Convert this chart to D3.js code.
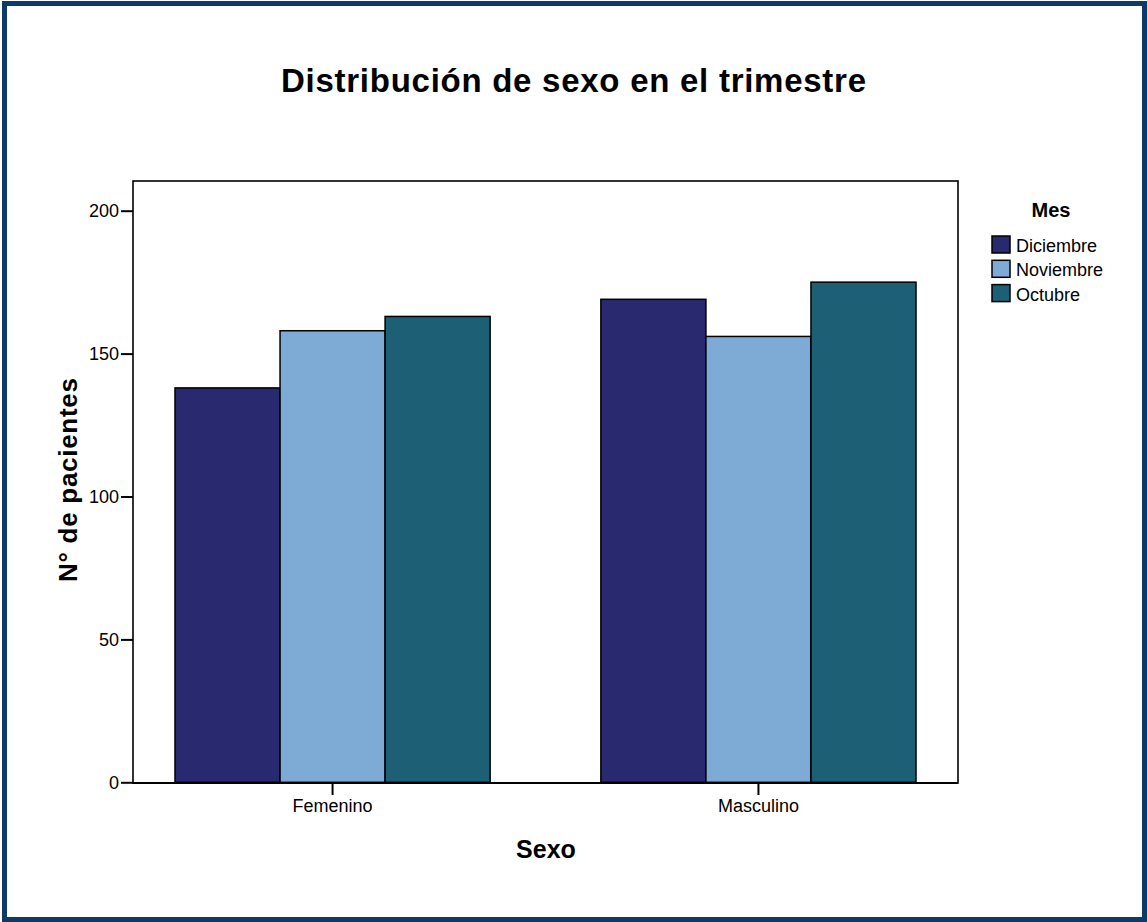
<!DOCTYPE html>
<html><head><meta charset="utf-8">
<script src="https://cdn.jsdelivr.net/npm/d3@7"></script>
<style>body{margin:0;background:#fff}svg{display:block}text{font-family:"Liberation Sans",Arial,sans-serif}</style>
</head><body><svg id="c" width="1147" height="922"></svg>
<script>
const categories = ["Femenino", "Masculino"];
const months = ["Diciembre", "Noviembre", "Octubre"];
const diciembre = [138, 169];
const noviembre = [158, 156];
const octubre = [163, 175];
const yTicks = [0, 50, 100, 150, 200];
const colors = ["#29296f", "#7eaad6", "#1d5f74"];

const series = [diciembre, noviembre, octubre];
const svg = d3.select("#c");

// outer frame
svg.append("rect").attr("x", 4.5).attr("y", 3.5).attr("width", 1140).attr("height", 916)
  .attr("fill", "#fff").attr("stroke", "#0d3b69").attr("stroke-width", 5);

const L = 133, R = 958, T = 181, B = 783;
const y = d3.scaleLinear().domain([0, 200]).range([782.3, 210.7]);
const x = d3.scaleBand().domain(categories).range([L, R]).paddingInner(0.26).paddingOuter(0.0986);
const xm = d3.scaleBand().domain(months).range([0, x.bandwidth()]).padding(0);

// title
svg.append("text").attr("x", 573.5).attr("y", 92).attr("text-anchor", "middle")
  .attr("font-size", 33).attr("font-weight", "bold").attr("textLength", 585).attr("lengthAdjust", "spacing")
  .text("Distribución de sexo en el trimestre");

// bars
const data = [];
categories.forEach((c, i) => months.forEach((m, j) => data.push({c, m, v: series[j][i], j})));
svg.append("g").selectAll("rect").data(data).join("rect")
  .attr("x", d => x(d.c) + xm(d.m))
  .attr("y", d => y(d.v))
  .attr("width", xm.bandwidth())
  .attr("height", d => y(0) - y(d.v))
  .attr("fill", d => colors[d.j])
  .attr("stroke", "#000").attr("stroke-width", 1.5);

// plot frame
svg.append("rect").attr("x", L).attr("y", T).attr("width", R - L).attr("height", B - T)
  .attr("fill", "none").attr("stroke", "#000").attr("stroke-width", 1.6);

// y axis
const ya = svg.append("g").attr("transform", `translate(${L},0)`)
  .call(d3.axisLeft(y).tickValues(yTicks).tickSize(12).tickPadding(2).tickFormat(d3.format("d")));
ya.select(".domain").remove();
ya.selectAll("line").attr("stroke", "#000").attr("stroke-width", 2);
ya.selectAll("text").attr("font-size", 18).attr("fill", "#000").attr("font-family", "Liberation Sans, Arial, sans-serif");

// x axis
const xa = svg.append("g").attr("transform", `translate(0,${B})`)
  .call(d3.axisBottom(x).tickSize(12).tickPadding(4));
xa.select(".domain").attr("stroke", "#000").attr("stroke-width", 2.2).attr("d", `M${L},0H${R}`);
xa.selectAll("line").attr("stroke", "#000").attr("stroke-width", 2);
xa.selectAll("text").attr("font-size", 18).attr("fill", "#000").attr("font-family", "Liberation Sans, Arial, sans-serif");

// axis titles
svg.append("text").attr("x", 546).attr("y", 857.5).attr("text-anchor", "middle")
  .attr("font-size", 25).attr("font-weight", "bold").text("Sexo");
svg.append("text").attr("transform", "translate(77,480) rotate(-90)").attr("text-anchor", "middle")
  .attr("font-size", 26).attr("font-weight", "bold").attr("textLength", 204).attr("lengthAdjust", "spacing")
  .text("N° de pacientes");

// legend
svg.append("text").attr("x", 1051).attr("y", 217).attr("text-anchor", "middle")
  .attr("font-size", 20).attr("font-weight", "bold").text("Mes");
const lg = svg.append("g").selectAll("g").data(months).join("g")
  .attr("transform", (d, i) => `translate(992,${236 + i * 24.3})`);
lg.append("rect").attr("width", 18).attr("height", 17).attr("fill", (d, i) => colors[i])
  .attr("stroke", "#000").attr("stroke-width", 1.5);
lg.append("text").attr("x", 24).attr("y", 16).attr("font-size", 18).text(d => d);
</script></body></html>
